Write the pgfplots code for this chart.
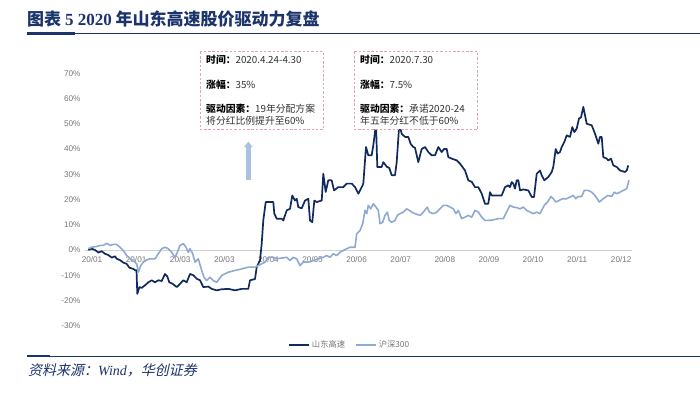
\documentclass[border=0pt]{standalone}
\usepackage{pgfplots}
\pgfplotsset{compat=1.18}
\usepackage{fontspec}
\usetikzlibrary{arrows.meta}
\setmainfont{Liberation Sans}
\newfontfamily\cjk{Noto Sans CJK SC}
\newfontfamily\cjkit[FakeSlant=0.22]{Noto Sans CJK SC}
\newfontfamily\serifb{Liberation Serif}
\definecolor{navy}{RGB}{16,42,94}
\definecolor{lightblue}{RGB}{143,170,210}
\definecolor{titleblue}{RGB}{28,52,108}
\definecolor{boxpink}{RGB}{232,160,170}
\definecolor{arrowblue}{RGB}{170,194,222}
\definecolor{ticklab}{RGB}{120,120,120}
\definecolor{boxtext}{RGB}{50,50,50}

\begin{document}
\begin{tikzpicture}
\fill[white] (0pt,0pt) rectangle (700pt,408pt);
\useasboundingbox (0pt,0pt) rectangle (700pt,408pt);

\begin{axis}[
  at={(85pt,82.3pt)}, anchor=south west,
  scale only axis, width=547pt, height=252.4pt,
  xmin=-0.159, xmax=12.245, ymin=-30, ymax=70,
  axis x line=middle, axis y line=left,
  x axis line style={draw=black!18, -},
  y axis line style={draw=none},
  major tick length=0pt,
  xtick={0,...,12},
  xticklabels={20/01,20/01,20/03,20/03,20/04,20/05,20/06,20/07,20/08,20/09,20/10,20/11,20/12},
  ytick={-30,-20,...,70},
  yticklabels={-30\%,-20\%,-10\%,0\%,10\%,20\%,30\%,40\%,50\%,60\%,70\%},
  tick label style={font=\fontsize{8.2}{9}\selectfont, text=ticklab},
  xticklabel style={yshift=-3pt},
  yticklabel style={xshift=-1pt},
  legend style={at={(0.484,-0.076)}, anchor=center, draw=none, fill=none,
    font=\fontsize{8.3}{9}\selectfont\cjk, text=ticklab,
    /tikz/every even column/.append style={column sep=8pt}},
  legend columns=2,
  legend image code/.code={\draw[#1] (0pt,0pt) -- (20pt,0pt);},
  clip=false,
]
\addplot[navy, line width=1.7pt, line join=round] coordinates {
(-0.084,0.0) (-0.007,0.5) (0.068,0) (0.143,-1) (0.220,-0.5) (0.295,-1.5) (0.370,-2)
(0.447,-3) (0.522,-2.5) (0.560,-3.5) (0.635,-4) (0.710,-5) (0.787,-5.5) (0.846,-7)
(0.937,-7.5) (0.975,-8) (1.009,-8) (1.027,-17.4) (1.073,-14.7) (1.127,-15) (1.202,-14)
(1.277,-12.8) (1.354,-12) (1.429,-12.8) (1.503,-12) (1.580,-12.3) (1.655,-9.5) (1.707,-10.5)
(1.753,-12.8) (1.830,-13.4) (1.921,-14.7) (1.995,-13.4) (2.070,-12) (2.147,-12.8) (2.222,-9.5)
(2.297,-10) (2.374,-11.4) (2.449,-12) (2.524,-14.7) (2.637,-14.5) (2.714,-15.4) (2.828,-16)
(2.925,-15.6) (3.091,-15.4) (3.243,-16) (3.395,-15.4) (3.544,-15.4) (3.583,-12) (3.696,-11.5)
(3.735,-6.8) (3.810,-4) (3.848,2.5) (3.884,11.7) (3.939,19) (4.111,19) (4.134,14.4)
(4.188,12.4) (4.302,12.4) (4.338,11.7) (4.415,15.7) (4.490,16.3) (4.542,21.6) (4.603,19.6)
(4.642,20.3) (4.678,17) (4.755,16.5) (4.830,19.6) (4.905,20.3) (4.943,11.7) (4.995,11)
(5.041,19.6) (5.095,19) (5.209,19.6) (5.245,30.2) (5.299,23) (5.358,27.6) (5.435,27.6)
(5.488,23.6) (5.585,24.9) (5.698,24.9) (5.776,26.3) (5.889,26.3) (5.964,24.9) (6.039,22.3)
(6.116,24.9) (6.152,26.3) (6.213,40.8) (6.265,37.5) (6.342,37.5) (6.379,41.5) (6.440,50)
(6.469,32.9) (6.569,32.9) (6.605,34.8) (6.683,33) (6.741,32.5) (6.796,29.6) (6.871,29.6)
(6.909,34.8) (6.968,50) (7.023,46) (7.098,44.8) (7.172,44.8) (7.227,42) (7.286,40.8)
(7.324,40.5) (7.399,34.8) (7.476,40) (7.551,40.8) (7.626,38.8) (7.703,37.5) (7.778,37.5)
(7.853,40.8) (7.930,38.8) (7.982,40) (8.043,40) (8.079,36.8) (8.156,36.2) (8.270,35.5)
(8.345,34.2) (8.458,31.5) (8.533,27.6) (8.610,27) (8.685,24.9) (8.760,24.9) (8.837,22.3)
(8.912,18.3) (8.986,18.3) (9.025,22.9) (9.063,21.6) (9.290,21.6) (9.365,24.9) (9.440,25.6)
(9.478,24.9) (9.517,26.9) (9.553,26.3) (9.592,24.3) (9.630,27.6) (9.667,27.6) (9.705,23.6)
(9.780,24) (9.893,23.6) (9.971,21) (10.023,21) (10.084,30.2) (10.159,31.5) (10.197,29.6)
(10.256,27.6) (10.347,28.9) (10.424,30.9) (10.460,32.9) (10.515,40) (10.560,38.2) (10.612,38.8)
(10.651,40.8) (10.710,42.8) (10.764,45.4) (10.839,44.8) (10.891,48.7) (10.937,46.7) (10.991,48.1)
(11.043,52.1) (11.088,52.5) (11.141,56.7) (11.179,53.4) (11.218,50) (11.331,49.4) (11.406,46.1)
(11.481,42.1) (11.519,44.8) (11.558,44.8) (11.594,36.8) (11.671,36.2) (11.707,35.5) (11.769,36.2)
(11.821,33.5) (11.898,32.9) (11.973,31.5) (12.086,30.9) (12.125,31.5) (12.161,33.5)
};
\addlegendentry{山东高速}
\addplot[lightblue, line width=1.6pt, line join=round] coordinates {
(-0.084,0.5) (-0.007,1.1) (0.107,1.4) (0.181,1.8) (0.256,1.8) (0.333,2.7) (0.408,1.8)
(0.483,2.2) (0.560,2.2) (0.635,1.1) (0.710,-0.2) (0.787,-2.2) (0.862,-3.5) (0.937,-4.2)
(1.014,-5.5) (1.050,-8.8) (1.104,-6.2) (1.163,-4.8) (1.240,-3.9) (1.315,-3.5) (1.429,-3.5)
(1.503,-1.5) (1.580,0.5) (1.655,1.1) (1.730,0.5) (1.807,-0.9) (1.882,-2.9) (1.921,-1.5)
(1.995,1.8) (2.070,2.5) (2.132,1.1) (2.184,-0.9) (2.222,0.5) (2.283,-1.5) (2.336,-4.8)
(2.410,-3.5) (2.487,-8.1) (2.540,-10.8) (2.601,-12.1) (2.676,-10.8) (2.751,-12.1) (2.828,-12.8)
(2.941,-10.1) (3.091,-8.8) (3.243,-8.1) (3.395,-7.5) (3.544,-6.8) (3.696,-6.8) (3.848,-5.5)
(3.923,-4.8) (3.998,-2.9) (4.111,-2.9) (4.188,-3.5) (4.302,-3.2) (4.415,-2.9) (4.490,-4.2)
(4.565,-2.9) (4.642,-3.5) (4.717,-6.2) (4.791,-4.8) (4.905,-4.8) (5.018,-4.2) (5.132,-3.5)
(5.245,-2.9) (5.322,-2.2) (5.397,-2.9) (5.472,-1.5) (5.549,-2.2) (5.624,-0.9) (5.698,-0.2)
(5.776,0.5) (5.850,1.1) (5.964,1.1) (6.002,6.4) (6.077,7.7) (6.138,10.4) (6.190,15.7)
(6.229,14.4) (6.265,17.7) (6.320,16.3) (6.379,18.3) (6.440,17) (6.492,15.7) (6.531,10.4)
(6.592,11) (6.644,13.7) (6.696,15) (6.741,11.7) (6.796,11) (6.871,11.7) (6.923,13.7)
(6.984,14.4) (7.059,15) (7.136,16.3) (7.195,15.7) (7.249,15) (7.324,14.4) (7.438,13.7)
(7.512,15) (7.603,17) (7.649,15) (7.739,14.4) (7.816,15) (7.891,16.3) (7.966,17.7)
(8.043,17.7) (8.118,17) (8.193,16.3) (8.254,14.4) (8.306,15.7) (8.383,12.4) (8.458,13)
(8.533,13.7) (8.610,13) (8.685,15.7) (8.760,15) (8.837,13) (8.912,11.7) (9.063,11.8)
(9.213,12.4) (9.327,12.4) (9.381,14.4) (9.478,17.7) (9.553,17) (9.630,16.8) (9.705,16.3)
(9.780,17) (9.857,15.7) (9.932,15) (10.007,14.4) (10.084,15) (10.159,14.4) (10.256,17.7)
(10.331,19) (10.408,21.2) (10.460,20.3) (10.515,19) (10.590,19.6) (10.664,20.3) (10.764,20.3)
(10.839,21) (10.914,21.6) (10.968,20.3) (11.027,21.2) (11.104,21.2) (11.163,23.6) (11.254,23.6)
(11.331,22.9) (11.406,21.6) (11.503,19) (11.594,20.3) (11.694,21.6) (11.785,21.2) (11.844,22.9)
(11.898,22.3) (11.973,22.9) (12.048,23.6) (12.125,24.3) (12.177,27.6)
};
\addlegendentry{沪深300}
\end{axis}

\begin{scope}[x=1pt,y=1pt]
% title and rules
\node[anchor=west, text=titleblue, inner sep=0] at (27,389)
  {\fontsize{17}{20}\selectfont\cjk\bfseries 图表 {\serifb\bfseries 5 2020} 年山东高速股价驱动力复盘};
\draw[titleblue, line width=0.9pt] (27,374.5) -- (700,374.5);
\fill[titleblue] (27,373.3) rectangle (75,375.8);
\draw[titleblue, line width=0.9pt] (27,52) -- (700,52);
\fill[titleblue] (27,50.8) rectangle (50,53.3);
\node[anchor=west, text=titleblue, inner sep=0] at (28,38)
  {\fontsize{14}{16}\selectfont\cjkit 资料来源：{\serifb\itshape Wind}，华创证券};

% annotation boxes
\draw[boxpink, dash pattern=on 2.5pt off 1.8pt, line width=0.6pt, fill=white] (200,356.3) rectangle (323.3,278.7);
\draw[boxpink, dash pattern=on 2.5pt off 1.8pt, line width=0.6pt, fill=white] (354,356.3) rectangle (477.7,278.7);
\begin{scope}[every node/.style={anchor=west, inner sep=0, text=boxtext, font=\fontsize{9.8}{11}\selectfont\cjk}]
\node at (206,348) {{\bfseries\color{black}时间：}2020.4.24-4.30};
\node at (206,323.7) {{\bfseries\color{black}涨幅：}35\%};
\node at (206,299.7) {{\bfseries\color{black}驱动因素：}19年分配方案};
\node at (206,287) {将分红比例提升至60\%};
\node at (360,348) {{\bfseries\color{black}时间：}2020.7.30};
\node at (360,323.7) {{\bfseries\color{black}涨幅：}7.5\%};
\node at (360,299.7) {{\bfseries\color{black}驱动因素：}承诺2020-24};
\node at (360,287) {年五年分红不低于60\%};
\end{scope}

% arrow
\draw[arrowblue, line width=4.5pt, -{Triangle[width=8pt,length=5.5pt]}] (248.3,228) -- (248.3,266.5);
\end{scope}
\end{tikzpicture}
\end{document}
